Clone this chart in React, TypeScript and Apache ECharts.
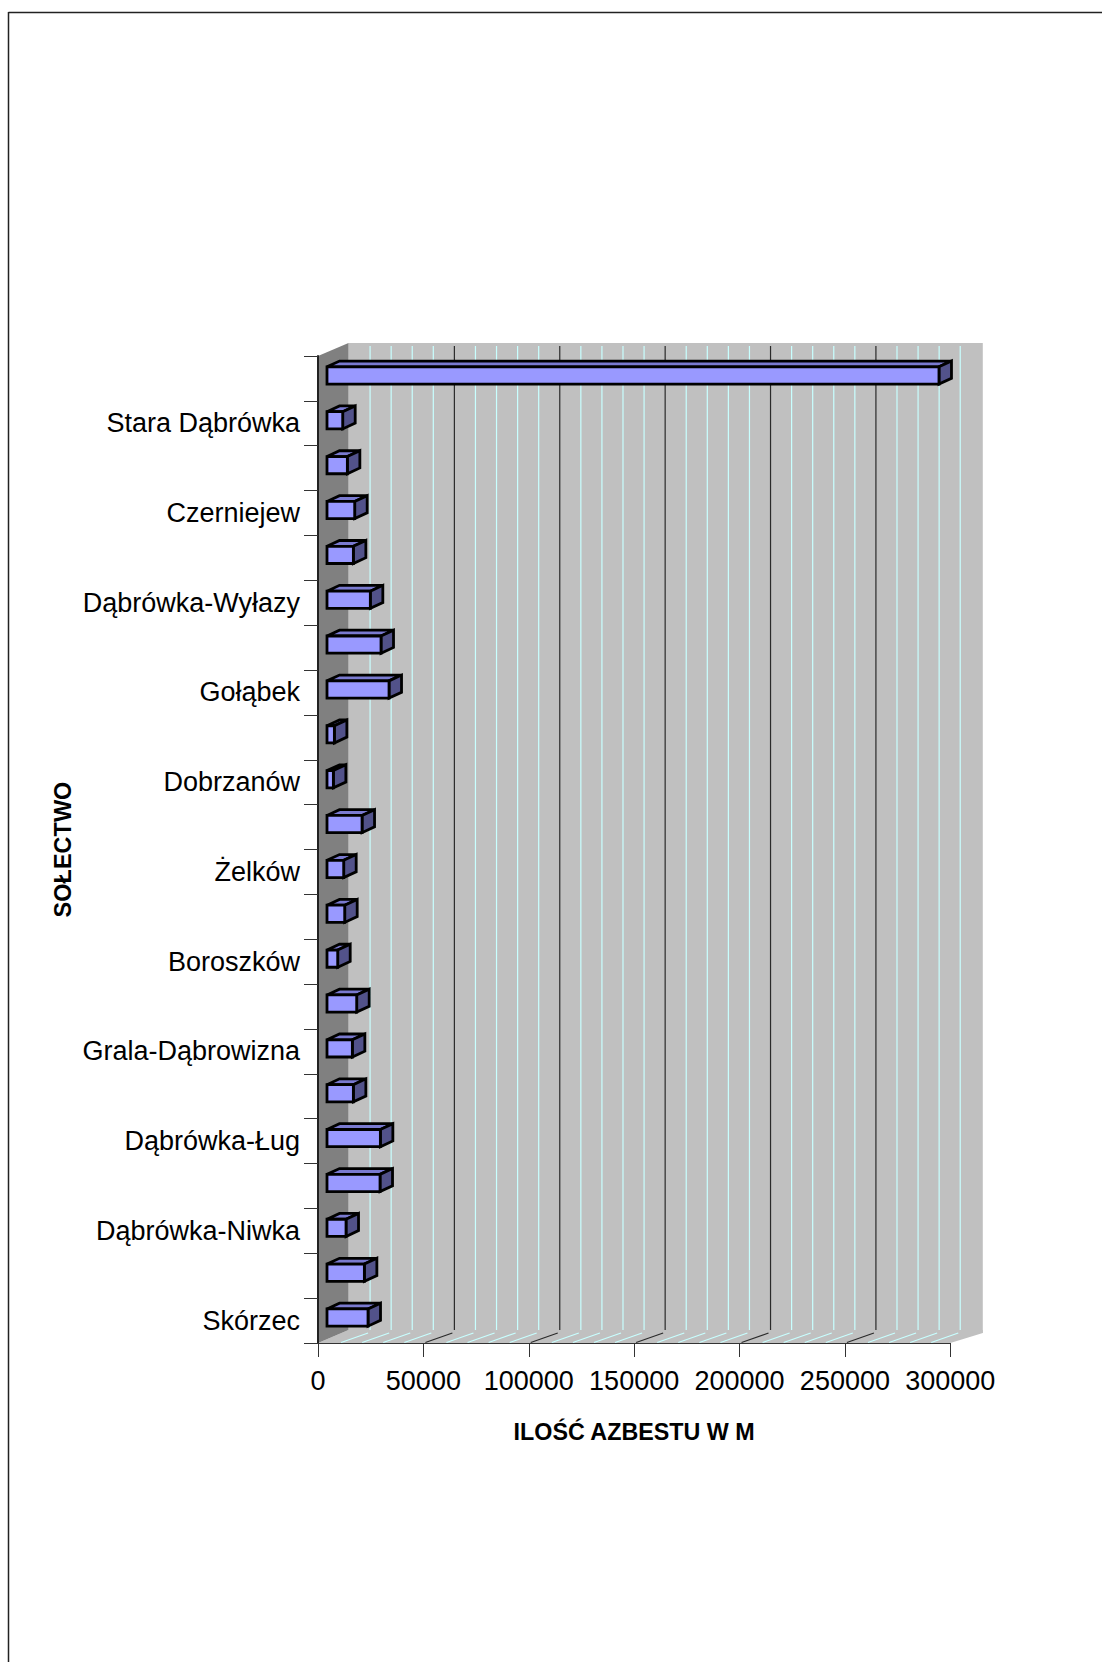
import React, { useEffect, useRef } from "react";
import * as echarts from "echarts";

// bottom-to-top order, as the category axis counts; only every second name is printed
const categories = [
  "Skórzec", "", "Dąbrówka-Niwka", "", "Dąbrówka-Ług", "", "Grala-Dąbrowizna", "",
  "Boroszków", "", "Żelków", "", "Dobrzanów", "", "Gołąbek", "", "Dąbrówka-Wyłazy", "",
  "Czerniejew", "", "Stara Dąbrówka", "",
];
const values = [
  19600, 17870, 9170, 25300, 25460, 12650, 12170, 14230, 5220, 8540, 8060,
  16770, 3160, 3640, 29570, 25770, 20700, 12650, 13280, 9800, 7590, 290500,
];
const majorTicks = [0, 50000, 100000, 150000, 200000, 250000, 300000];
const minorTicks = [
  10000, 20000, 30000, 40000, 60000, 70000, 80000, 90000, 110000, 120000, 130000, 140000,
  160000, 170000, 180000, 190000, 210000, 220000, 230000, 240000, 260000, 270000, 280000, 290000,
];

const FONT = '"Liberation Sans", Arial, sans-serif';

function renderWalls(_params: any, api: any) {
  const [x0, yBottom] = api.coord([0, 0]);
  const band = api.size([0, 1])[1];
  const bottom = yBottom + band / 2;
  const top = bottom - band * categories.length;
  const x300 = api.coord([300000, 0])[0];
  const dx = 30.5;
  const dy = 13;
  const children: any[] = [
    { type: "polygon", shape: { points: [[x0 + dx, top - dy], [x300 + 32.5, top - dy], [x300 + 32.5, bottom - 10], [x0 + dx, bottom - 10]] }, style: { fill: "#c0c0c0" } },
    { type: "polygon", shape: { points: [[x0, bottom], [x0 + dx, bottom - dy], [x300 + 32.5, bottom - dy], [x300 + 32.5, bottom - 10], [x300, bottom]] }, style: { fill: "#c0c0c0" } },
    { type: "polygon", shape: { points: [[x0, top], [x0 + dx, top - dy], [x0 + dx, bottom - dy], [x0, bottom]] }, style: { fill: "#808080" } },
  ];
  const addGrid = (v: number, color: string, width: number) => {
    const x = api.coord([v, 0])[0];
    children.push({ type: "line", shape: { x1: x + 31, y1: top - 10, x2: x + 31, y2: bottom - dy }, style: { stroke: color, lineWidth: width } });
    children.push({ type: "line", shape: { x1: x + 2, y1: bottom - 0.5, x2: x + 29, y2: bottom - 10 }, style: { stroke: color, lineWidth: width } });
  };
  minorTicks.forEach((v) => addGrid(v, "#c8ffff", 1.2));
  majorTicks.slice(1, 6).forEach((v) => addGrid(v, "#2a2a2a", 1.2));
  return { type: "group", children };
}

function renderBar(_params: any, api: any) {
  const value = api.value(0);
  const idx = api.value(1);
  const [x, cy] = api.coord([value, idx]);
  const x0 = api.coord([0, idx])[0];
  const left = x0 + 9;
  const right = x + 8.7;
  const h = 17.2;
  const top = cy - 3 - h / 2;
  const bot = top + h;
  const dx = 12.5;
  const dy = 5.8;
  const stroke = { stroke: "#000000", lineWidth: 2.8, lineJoin: "miter" };
  return {
    type: "group",
    children: [
      { type: "polygon", shape: { points: [[left, top], [left + dx, top - dy], [right + dx, top - dy], [right, top]] }, style: { fill: "#7a7ad0", ...stroke } },
      { type: "polygon", shape: { points: [[right, top], [right + dx, top - dy], [right + dx, bot - dy], [right, bot]] }, style: { fill: "#52528a", ...stroke } },
      { type: "rect", shape: { x: left, y: top, width: right - left, height: h }, style: { fill: "#9999ff", ...stroke } },
    ],
  };
}

export default function App() {
  const ref = useRef<HTMLDivElement>(null);
  useEffect(() => {
    document.body.style.margin = "0";
    const chart = echarts.init(ref.current!, undefined, { renderer: "svg" });
    chart.setOption({
      animation: false,
      backgroundColor: "#ffffff",
      textStyle: { fontFamily: FONT },
      grid: { left: 318, top: 356, width: 632.3, height: 987, containLabel: false },
      xAxis: {
        type: "value",
        min: 0,
        max: 300000,
        interval: 50000,
        z: 5,
        name: "ILOŚĆ AZBESTU W M",
        nameLocation: "middle",
        nameGap: 77,
        nameMoveOverlap: false,
        nameTextStyle: { fontFamily: FONT, fontSize: 23.3, fontWeight: "bold", color: "#000" },
        axisLine: { show: true, lineStyle: { color: "#333333", width: 1 } },
        axisTick: { show: true, length: 14, lineStyle: { color: "#333333", width: 1 } },
        axisLabel: {
          show: true,
          margin: 24,
          fontFamily: FONT,
          fontSize: 27,
          color: "#000",
          formatter: (v: number) => String(v),
        },
        splitLine: { show: false },
      },
      yAxis: {
        type: "category",
        data: categories,
        z: 5,
        name: "SOŁECTWO",
        nameLocation: "middle",
        nameGap: 243,
        nameMoveOverlap: false,
        nameTextStyle: { fontFamily: FONT, fontSize: 23.5, fontWeight: "bold", color: "#000" },
        axisLine: { show: true, lineStyle: { color: "#222222", width: 2 } },
        axisTick: { show: true, length: 14, alignWithLabel: false, interval: 0, lineStyle: { color: "#333333", width: 1 } },
        axisLabel: { show: true, interval: 1, margin: 18, fontFamily: FONT, fontSize: 27, color: "#000" },
        splitLine: { show: false },
      },
      series: [
        { type: "custom", z: 1, silent: true, renderItem: renderWalls, data: [[0, 0]], encode: { x: 0, y: 1 }, clip: false },
        {
          type: "custom",
          z: 3,
          renderItem: renderBar,
          data: values.map((v, i) => [v, i]),
          encode: { x: 0, y: 1 },
          clip: false,
        },
      ],
      graphic: [
        { type: "line", shape: { x1: 8.5, y1: 12.5, x2: 1102, y2: 12.5 }, style: { stroke: "#222222", lineWidth: 1.5 } },
        { type: "line", shape: { x1: 8.5, y1: 12, x2: 8.5, y2: 1662 }, style: { stroke: "#222222", lineWidth: 1.5 } },
      ],
    });
    return () => chart.dispose();
  }, []);
  return <div ref={ref} style={{ position: "absolute", left: 0, top: 0, width: 1102, height: 1662 }} />;
}
